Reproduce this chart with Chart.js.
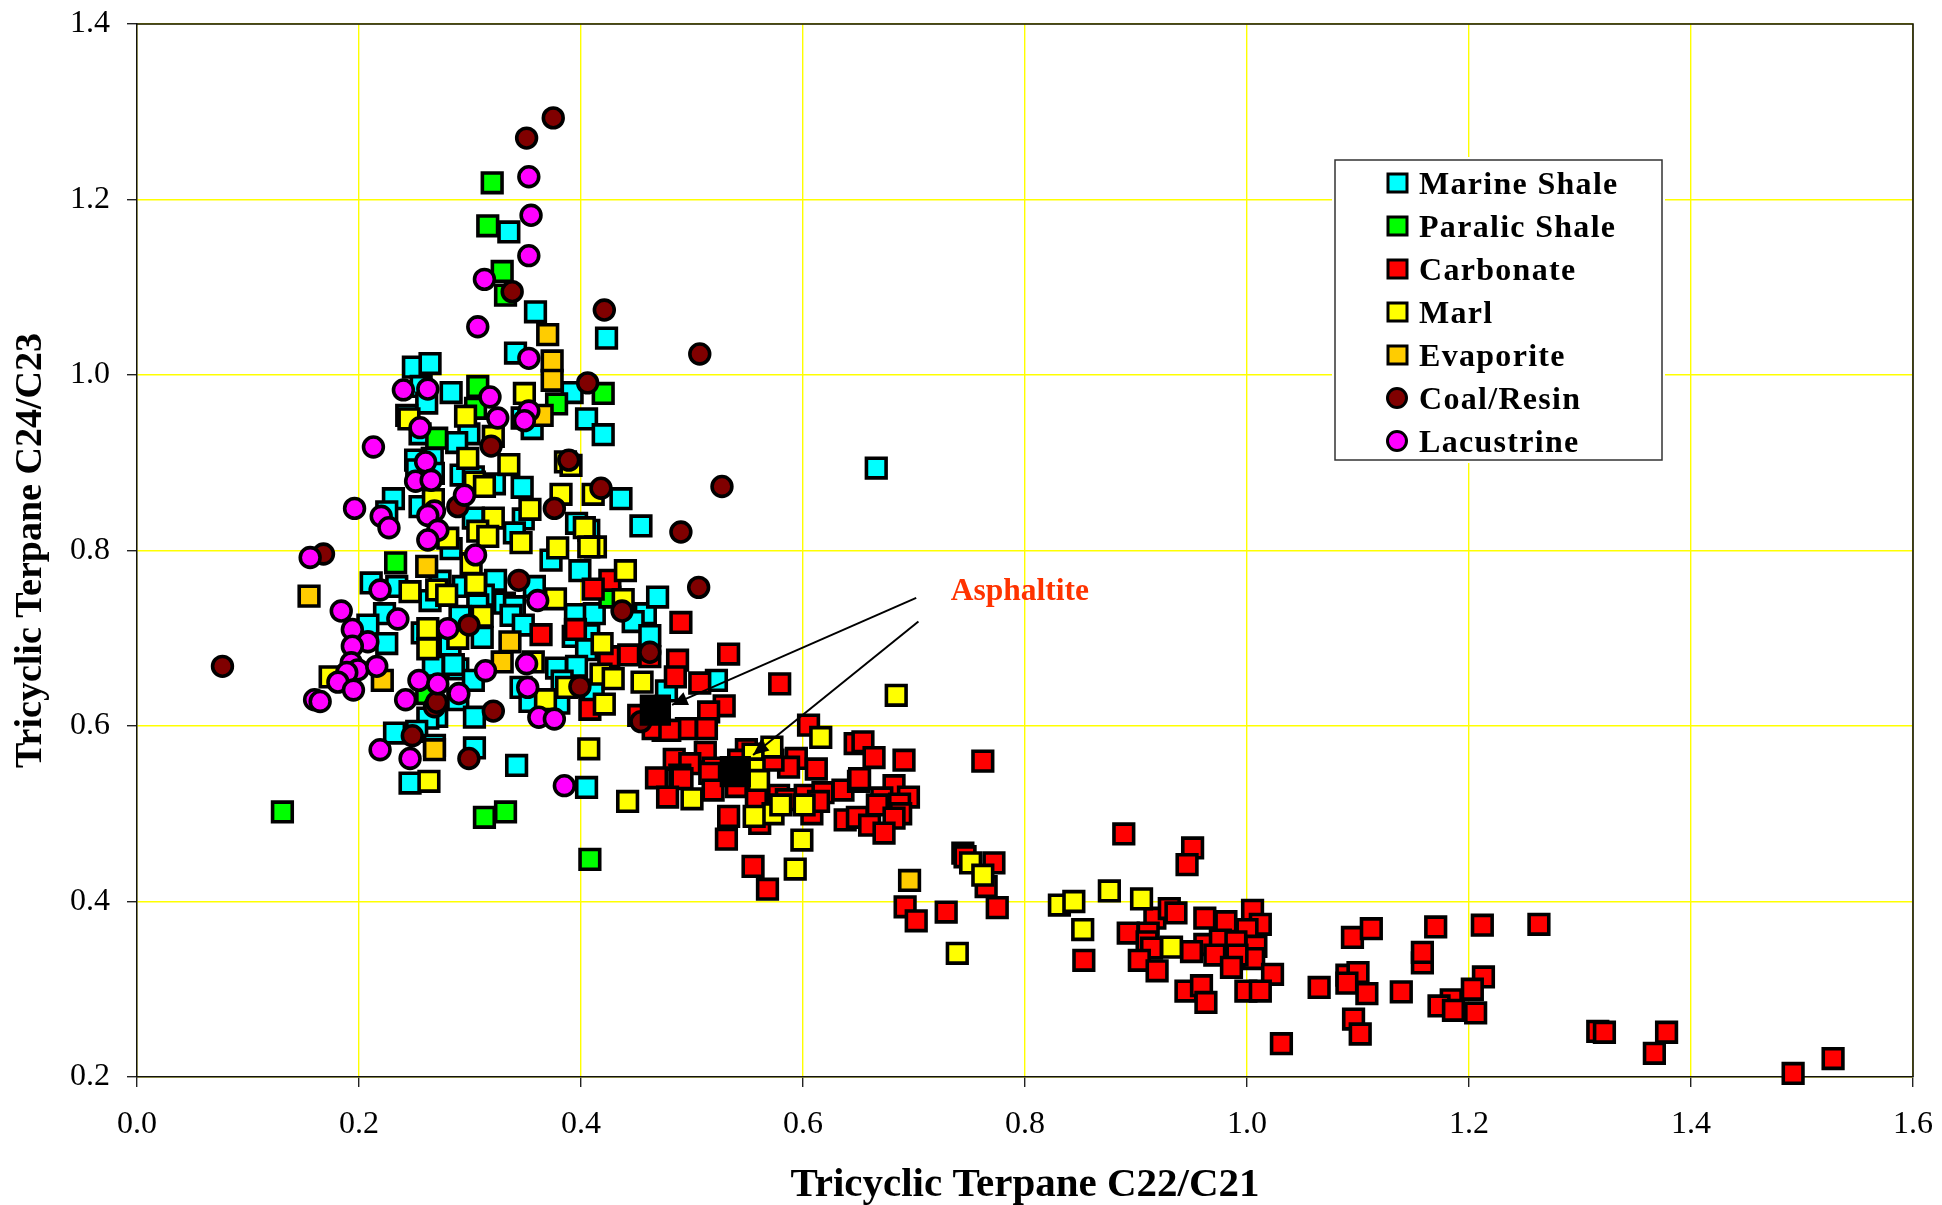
<!DOCTYPE html>
<html lang="en">
<head>
  <meta charset="UTF-8">
  <title>Tricyclic Terpane cross-plot</title>
  <script src="https://cdn.jsdelivr.net/npm/chart.js"></script>
  <style>
    html, body { margin: 0; padding: 0; background: #fff; }
    canvas { display: block; }
  </style>
</head>
<body>
  <canvas id="chart" width="1942" height="1205"></canvas>

  <script>
    // [C22/C21, C24/C23]
    const marineShale = [
      [.335,1.163],[.359,1.072],[.423,1.042],[.341,1.025],[.249,1.009],[.264,1.013],[.256,.987],[.283,.980],[.261,.968],
      [.392,.980],[.405,.950],[.420,.932],[.347,.951],[.356,.939],[.243,.954],[.299,.933],[.288,.923],[.255,.933],
      [.266,.905],[.251,.903],[.267,.888],[.252,.892],[.292,.886],[.303,.884],[.322,.876],[.347,.872],[.436,.859],
      [.231,.859],[.225,.844],[.255,.850],[.303,.837],[.348,.836],[.396,.831],[.407,.823],[.454,.828],[.340,.820],
      [.373,.789],[.399,.777],[.283,.802],[.211,.763],[.234,.759],[.273,.765],[.294,.759],[.323,.766],[.358,.759],
      [.264,.743],[.312,.749],[.331,.740],[.340,.736],[.307,.738],[.223,.728],[.291,.725],[.337,.726],[.348,.715],
      [.395,.727],[.412,.728],[.458,.728],[.469,.747],[.447,.719],[.208,.715],[.257,.706],[.282,.692],[.311,.701],
      [.225,.694],[.393,.702],[.407,.704],[.462,.703],[.405,.687],[.267,.668],[.289,.665],[.303,.652],[.285,.670],
      [.378,.666],[.396,.668],[.383,.651],[.346,.644],[.411,.641],[.354,.628],[.380,.626],[.289,.630],[.270,.611],
      [.262,.609],[.304,.610],[.232,.592],[.252,.594],[.268,.578],[.304,.575],[.342,.555],[.246,.535],[.405,.530],
      [.477,.640],[.522,.652],[.666,.894]
    ];
    const paralicShale = [
      [.320,1.219],[.316,1.170],[.329,1.118],[.332,1.091],[.420,.979],[.378,.967],[.307,.987],[.305,.962],[.270,.928],
      [.233,.786],[.313,.496],[.332,.502],[.131,.502],[.408,.448],[.261,.637],[.426,.747]
    ];
    const carbonate = [
      [.426,.766],[.411,.756],[.364,.704],[.395,.710],[.490,.718],[.443,.681],[.425,.679],[.462,.679],[.487,.675],
      [.485,.656],[.507,.649],[.408,.619],[.452,.612],[.474,.595],[.495,.597],[.465,.597],[.533,.682],[.579,.648],
      [.529,.623],[.515,.616],[.513,.597],[.480,.595],[.605,.601],[.647,.580],[.654,.582],[.664,.564],[.691,.561],
      [.762,.560],[.594,.563],[.587,.553],[.612,.551],[.573,.561],[.549,.573],[.542,.561],[.512,.570],[.484,.562],
      [.498,.557],[.489,.544],[.491,.540],[.468,.541],[.519,.552],[.516,.546],[.519,.527],[.540,.531],[.478,.519],
      [.578,.521],[.585,.516],[.602,.521],[.618,.524],[.636,.527],[.650,.537],[.651,.540],[.558,.516],[.533,.497],
      [.561,.489],[.608,.500],[.614,.514],[.531,.471],[.555,.440],[.568,.414],[.638,.493],[.649,.496],[.682,.532],
      [.695,.519],[.671,.518],[.667,.510],[.687,.511],[.688,.500],[.660,.487],[.682,.495],[.673,.478],[.692,.394],
      [.702,.378],[.729,.388],[.744,.455],[.746,.451],[.772,.444],[.765,.417],[.775,.393],
      [.889,.477],[.951,.461],[.946,.442],[.853,.333],[.893,.364],[.917,.381],[.930,.392],[.936,.387],[.911,.364],
      [.910,.354],[.914,.347],[.903,.333],[.919,.321],[.962,.381],[.981,.377],[1.005,.390],[1.012,.374],[1.000,.368],
      [.962,.351],[.976,.356],[.990,.354],[1.008,.349],[.950,.343],[.971,.339],[1.006,.335],[.991,.339],[.986,.325],
      [1.023,.317],[.945,.298],[.959,.304],[.963,.285],[.999,.298],[1.012,.298],[1.031,.238],[1.065,.302],[1.090,.316],
      [1.100,.319],[1.090,.307],[1.108,.295],[1.096,.266],[1.102,.249],[1.095,.359],[1.112,.369],[1.139,.297],
      [1.158,.330],[1.158,.342],[1.170,.371],[1.212,.373],[1.263,.374],[1.213,.314],[1.203,.300],[1.184,.288],
      [1.173,.281],[1.186,.276],[1.206,.273],[1.316,.252],[1.322,.251],[1.378,.251],[1.367,.227],[1.492,.204],[1.528,.221]
    ];
    const marl = [
      [.296,.953],[.349,.979],[.245,.950],[.321,.930],[.298,.905],[.335,.898],[.386,.901],[.391,.897],[.304,.878],
      [.313,.873],[.382,.864],[.411,.864],[.267,.858],[.354,.847],[.321,.837],[.280,.814],[.307,.822],[.316,.816],
      [.346,.809],[.379,.803],[.403,.826],[.413,.804],[.407,.804],[.301,.785],[.305,.762],[.246,.753],[.270,.755],
      [.279,.749],[.377,.745],[.440,.777],[.438,.744],[.311,.725],[.262,.711],[.289,.700],[.262,.688],[.419,.694],
      [.357,.673],[.418,.659],[.429,.654],[.455,.650],[.174,.656],[.387,.644],[.368,.630],[.421,.625],[.407,.574],
      [.263,.537],[.442,.514],[.500,.517],[.684,.635],[.616,.587],[.572,.576],[.555,.568],[.556,.551],[.560,.538],
      [.573,.500],[.580,.510],[.601,.510],[.556,.497],[.599,.470],[.593,.437],[.751,.444],[.762,.430],[.739,.341],
      [.831,.396],[.844,.400],[.876,.412],[.905,.403],[.852,.368],[.932,.348]
    ];
    const evaporite = [
      [.370,1.046],[.374,1.016],[.374,.994],[.365,.954],[.261,.782],[.155,.748],[.336,.696],[.329,.673],[.221,.652],
      [.268,.573],[.696,.424]
    ];
    const coalResin = [
      [.375,1.293],[.351,1.270],[.338,1.095],[.421,1.074],[.406,.991],[.389,.903],[.319,.919],[.418,.871],[.507,1.024],
      [.168,.796],[.077,.668],[.289,.850],[.376,.848],[.490,.821],[.506,.758],[.299,.715],[.344,.766],[.437,.731],
      [.462,.684],[.399,.645],[.268,.622],[.270,.627],[.321,.617],[.248,.589],[.299,.563],[.454,.605],[.527,.873]
    ];
    const lacustrine = [
      [.353,1.226],[.355,1.182],[.353,1.136],[.313,1.109],[.307,1.055],[.353,1.019],[.240,.983],[.262,.984],[.318,.975],
      [.325,.951],[.353,.959],[.349,.948],[.255,.940],[.213,.918],[.260,.901],[.251,.879],[.265,.880],[.295,.863],
      [.196,.848],[.220,.839],[.227,.826],[.268,.845],[.262,.840],[.271,.823],[.262,.812],[.305,.795],[.156,.792],
      [.219,.755],[.361,.743],[.184,.731],[.235,.722],[.280,.711],[.194,.710],[.208,.696],[.194,.691],[.351,.671],
      [.193,.672],[.199,.664],[.216,.668],[.189,.661],[.181,.650],[.195,.641],[.314,.663],[.254,.652],[.271,.648],
      [.290,.637],[.352,.644],[.242,.630],[.160,.630],[.165,.628],[.362,.610],[.376,.608],[.219,.573],[.246,.563],[.385,.532]
    ];
    const asphaltite = [[.467,.618],[.539,.548]];

    const seriesNames = ['Marine Shale', 'Paralic Shale', 'Carbonate', 'Marl', 'Evaporite', 'Coal/Resin', 'Lacustrine'];
    const seriesData = [marineShale, paralicShale, carbonate, marl, evaporite, coalResin, lacustrine];
    const seriesColors = ['#00FFFF', '#00FF00', '#FF0000', '#FFFF00', '#FFCC00', '#800000', '#FF00FF'];
    const seriesShapes = ['rect', 'rect', 'rect', 'rect', 'rect', 'circle', 'circle'];

    const xLabel = 'Tricyclic Terpane C22/C21';
    const yLabel = 'Tricyclic Terpane C24/C23';
    const noteText = 'Asphaltite';
    const notePoint = [.733, .753];
    // arrow tail, arrow tip
    const arrows = [[[.702,.746],[.482,.624]], [[.704,.719],[.555,.567]]];

    const serif = "'Liberation Serif', 'Times New Roman', serif";

    const toPoints = rows => rows.map(r => ({ x: r[0], y: r[1] }));

    const datasets = seriesNames.map((name, i) => ({
      label: name,
      data: toPoints(seriesData[i]),
      order: seriesNames.length - i,   // later series paint on top
      clip: false,
      pointStyle: seriesShapes[i],
      pointRadius: seriesShapes[i] === 'rect' ? 13.9 : 9.9,
      pointBackgroundColor: seriesColors[i],
      pointBorderColor: '#000',
      pointBorderWidth: 3.6
    }));
    datasets.push({
      label: 'Asphaltite',
      data: toPoints(asphaltite),
      order: 0,
      clip: false,
      pointStyle: 'rect',
      pointRadius: 20,
      pointBackgroundColor: '#000',
      pointBorderColor: '#000',
      pointBorderWidth: 3
    });

    // top and right edge of the plot
    const frame = {
      id: 'frame',
      beforeDatasetsDraw(chart) {
        const { ctx, chartArea: a } = chart;
        ctx.save();
        ctx.strokeStyle = '#111';
        ctx.lineWidth = 1.6;
        ctx.beginPath();
        ctx.moveTo(a.left, a.top);
        ctx.lineTo(a.right, a.top);
        ctx.lineTo(a.right, a.bottom);
        ctx.stroke();
        ctx.restore();
      }
    };

    const annotation = {
      id: 'annotation',
      afterDatasetsDraw(chart) {
        const { ctx, scales: { x, y } } = chart;
        ctx.save();
        ctx.strokeStyle = '#000';
        ctx.fillStyle = '#000';
        ctx.lineWidth = 2;
        arrows.forEach(([from, to]) => {
          const x1 = x.getPixelForValue(from[0]), y1 = y.getPixelForValue(from[1]);
          const x2 = x.getPixelForValue(to[0]), y2 = y.getPixelForValue(to[1]);
          const ang = Math.atan2(y2 - y1, x2 - x1);
          ctx.beginPath();
          ctx.moveTo(x1, y1);
          ctx.lineTo(x2, y2);
          ctx.stroke();
          ctx.beginPath();
          ctx.moveTo(x2, y2);
          ctx.lineTo(x2 - 17 * Math.cos(ang - 0.42), y2 - 17 * Math.sin(ang - 0.42));
          ctx.lineTo(x2 - 17 * Math.cos(ang + 0.42), y2 - 17 * Math.sin(ang + 0.42));
          ctx.closePath();
          ctx.fill();
        });
        ctx.fillStyle = '#FF3300';
        ctx.font = 'bold 31.5px ' + serif;
        ctx.textAlign = 'left';
        ctx.textBaseline = 'middle';
        ctx.fillText(noteText, x.getPixelForValue(notePoint[0]), y.getPixelForValue(notePoint[1]));
        ctx.restore();
      }
    };

    // legend box sits inside the plot, the built-in legend can't go there
    const boxLegend = {
      id: 'boxLegend',
      afterDraw(chart) {
        const ctx = chart.ctx;
        ctx.save();
        ctx.fillStyle = '#fff';
        ctx.fillRect(1332, 157, 333, 306);
        ctx.strokeStyle = '#333';
        ctx.lineWidth = 1.5;
        ctx.strokeRect(1335, 160, 327, 300);
        ctx.font = 'bold 32px ' + serif;
        ctx.letterSpacing = '1.3px';
        ctx.textBaseline = 'alphabetic';
        ctx.textAlign = 'left';
        seriesNames.forEach((name, i) => {
          const cy = 183 + i * 43;
          ctx.beginPath();
          if (seriesShapes[i] === 'rect') ctx.rect(1388, cy - 9, 19, 18);
          else ctx.arc(1397, cy, 9.5, 0, Math.PI * 2);
          ctx.fillStyle = seriesColors[i];
          ctx.fill();
          ctx.strokeStyle = '#000';
          ctx.lineWidth = 3;
          ctx.stroke();
          ctx.fillStyle = '#000';
          ctx.fillText(name, 1419, cy + 11);
        });
        ctx.restore();
      }
    };

    new Chart(document.getElementById('chart'), {
      type: 'scatter',
      data: { datasets },
      plugins: [frame, annotation, boxLegend],
      options: {
        responsive: false,
        animation: false,
        events: [],
        layout: { autoPadding: false, padding: { top: 24, right: 29, left: 0, bottom: 0 } },
        plugins: { legend: { display: false }, tooltip: { enabled: false } },
        scales: {
          x: {
            type: 'linear', min: 0, max: 1.6,
            // fixed plot box: drop the room Chart.js reserves for the end labels
            afterFit(s) { s.height = 128; s.paddingLeft = 0; s.paddingRight = 0; },
            ticks: {
              stepSize: 0.2, autoSkip: false, maxRotation: 0, padding: 18, color: '#000',
              font: { family: serif, size: 32 },
              callback: v => v.toFixed(1)
            },
            grid: { color: '#FFFF00', lineWidth: 1.4, tickColor: '#222', tickLength: 10 },
            border: { color: '#111', width: 1.5 },
            title: {
              display: true, text: xLabel, color: '#000',
              font: { family: serif, size: 41, weight: 'bold' },
              padding: { top: 0, bottom: -5 }
            }
          },
          y: {
            type: 'linear', min: 0.2, max: 1.4,
            afterFit(s) { s.width = 137; s.paddingTop = 0; s.paddingBottom = 0; },
            ticks: {
              stepSize: 0.2, autoSkip: false, padding: 17, color: '#000',
              font: { family: serif, size: 32 },
              callback: v => v.toFixed(1)
            },
            grid: { color: '#FFFF00', lineWidth: 1.4, tickColor: '#222', tickLength: 10 },
            border: { color: '#111', width: 1.5 },
            title: {
              display: true, text: yLabel, color: '#000',
              font: { family: serif, size: 38, weight: 'bold' },
              padding: { top: 8, bottom: 0 }
            }
          }
        }
      }
    });
  </script>
</body>
</html>
